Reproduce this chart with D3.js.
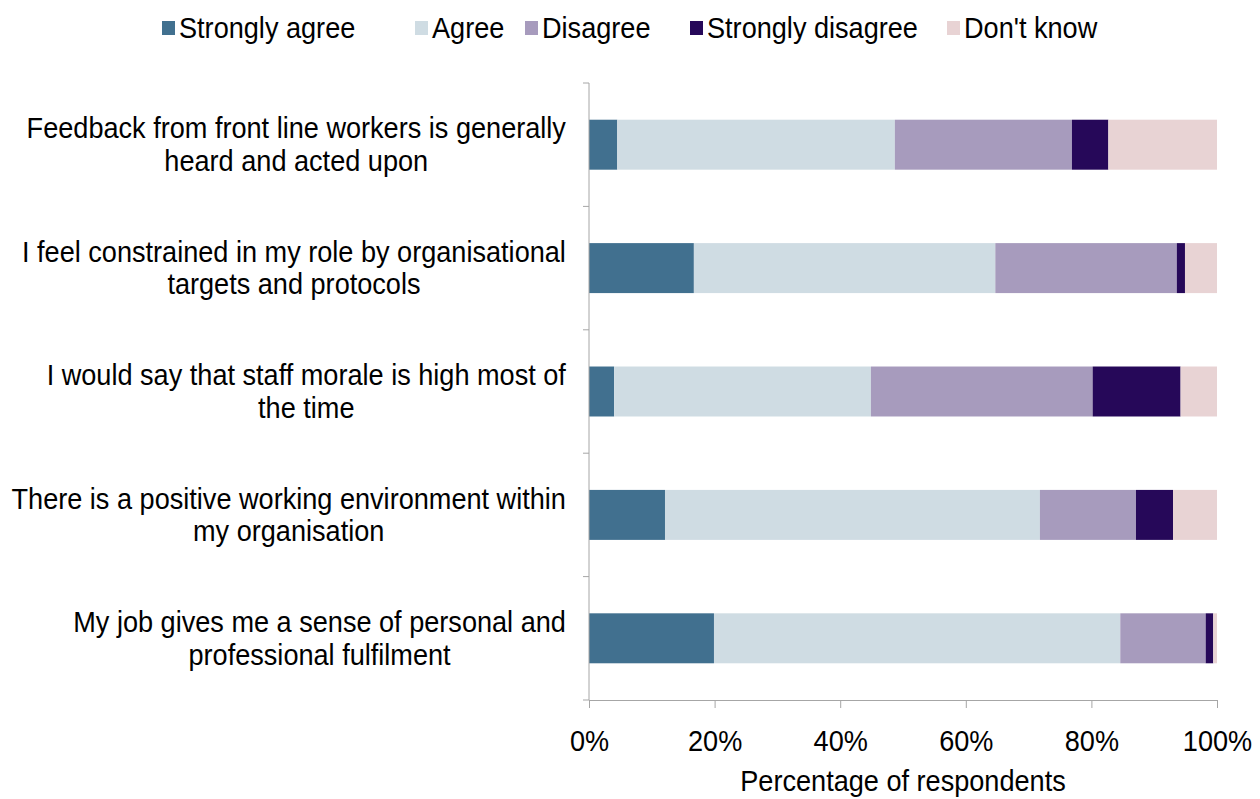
<!DOCTYPE html>
<html>
<head>
<meta charset="utf-8">
<script src="https://cdn.jsdelivr.net/npm/d3@7"></script>
<style>
  body { margin: 0; background: #fff; }
  text { font-family: "Liberation Sans", Arial, sans-serif; fill: #000; }
</style>
</head>
<body>
<svg id="chart"></svg>
<script>
var categories = [
  ["Feedback from front line workers is generally", "heard and acted upon"],
  ["I feel constrained in my role by organisational", "targets and protocols"],
  ["I would say that staff morale is high most of", "the time"],
  ["There is a positive working environment within", "my organisation"],
  ["My job gives me a sense of personal and", "professional fulfilment"]
]
var seriesNames = ["Strongly agree", "Agree", "Disagree", "Strongly disagree", "Don't know"]
var stronglyAgree    = [4.5, 16.7, 4.0, 12.1, 19.9]
var agree            = [44.2, 48.0, 40.9, 59.7, 64.7]
var disagree         = [28.2, 28.9, 35.3, 15.3, 13.6]
var stronglyDisagree = [5.8, 1.3, 14.0, 5.9, 1.2]
var dontKnow         = [17.3, 5.1, 5.8, 7.0, 0.6]
var tickValues = [0, 20, 40, 60, 80, 100]
var colors = ["#41708f", "#cfdce3", "#a79bbd", "#260859", "#e8d3d4"]

var width = 1260,
    height = 799,
    margin = {left: 589, right: 43, top: 83, bottom: 99},
    svg = d3.select("#chart").attr("width", width).attr("height", height),
    fontSize = 29,
    squeeze = 0.935   // the reference text is narrow, like a squeezed Arial

// put a text at (px, py) with the horizontal squeeze applied
function place(sel, px, py) {
  sel.attr("x", 0).attr("y", 0)
    .attr("font-size", fontSize)
    .attr("transform", `translate(${px},${py}) scale(${squeeze},1)`)
}

var rows = categories.map((c, i) => ({
  key: i,
  "Strongly agree": stronglyAgree[i],
  "Agree": agree[i],
  "Disagree": disagree[i],
  "Strongly disagree": stronglyDisagree[i],
  "Don't know": dontKnow[i]
}))

var stacked = d3.stack().keys(seriesNames)(rows)

var x = d3.scaleLinear()
  .domain([0, 100])
  .range([margin.left, width - margin.right])

var y = d3.scaleBand()
  .domain(rows.map((d) => d.key))
  .range([margin.top, height - margin.bottom])
  .paddingInner(0.595)
  .paddingOuter(0.2975)

var color = d3.scaleOrdinal().domain(seriesNames).range(colors)

// bars
svg.append("g")
  .selectAll("g")
  .data(stacked)
  .enter().append("g")
    .attr("fill", (d) => color(d.key))
    .selectAll("rect")
    .data((d) => d)
    .enter().append("rect")
      .attr("x", (d) => x(d[0]))
      .attr("y", (d) => y(d.data.key))
      .attr("width", (d) => x(d[1]) - x(d[0]))
      .attr("height", y.bandwidth())

// axes
var axisColor = "#a6a6a6"
var step = y.step()
var bounds = d3.range(rows.length + 1).map((i) => margin.top + i * step)

svg.append("line")
  .attr("x1", x(0)).attr("x2", x(0))
  .attr("y1", margin.top).attr("y2", height - margin.bottom)
  .attr("stroke", axisColor)
svg.append("g")
  .selectAll("line")
  .data(bounds)
  .enter().append("line")
    .attr("x1", x(0) - 6).attr("x2", x(0))
    .attr("y1", (d) => d).attr("y2", (d) => d)
    .attr("stroke", axisColor)

var xAxis = svg.append("g")
  .attr("transform", `translate(0,${height - margin.bottom})`)
  .call(d3.axisBottom(x).tickValues(tickValues).tickSize(8)
    .tickFormat((d) => d + "%"))
xAxis.select(".domain").attr("stroke", axisColor)
xAxis.selectAll(".tick line").attr("stroke", axisColor)
xAxis.selectAll(".tick text")
  .style("font-family", "'Liberation Sans', Arial, sans-serif")
  .attr("fill", "#000")
  .attr("dy", null)
  .each(function() { place(d3.select(this), 0, 51) })

svg.append("text")
  .attr("text-anchor", "middle")
  .text("Percentage of respondents")
  .call(place, x(50), 791)

// category labels, centred lines, block right-aligned to axis
var labelRight = 566
categories.forEach((lines, i) => {
  var cy = y(i) + y.bandwidth() / 2
  var g = svg.append("g")
  var texts = lines.map((t, j) => g.append("text")
    .attr("text-anchor", "middle")
    .text(t))
  var maxW = d3.max(texts, (t) => t.attr("font-size", fontSize).node().getComputedTextLength()) * squeeze
  texts.forEach((t, j) => place(t, labelRight - maxW / 2, cy + (j - (lines.length - 1) / 2) * 32.5 + 10))
})

// legend
var legendX = [162, 415, 525, 690, 947]
var legend = svg.append("g")
  .selectAll("g")
  .data(seriesNames)
  .enter().append("g")
    .attr("transform", (d, i) => `translate(${legendX[i]},28)`)
legend.append("rect")
  .attr("x", 0).attr("y", -7)
  .attr("width", 13).attr("height", 14)
  .attr("fill", (d) => color(d))
legend.append("text")
  .text((d) => d)
  .each(function() { place(d3.select(this), 17, 10) })
</script>
</body>
</html>
